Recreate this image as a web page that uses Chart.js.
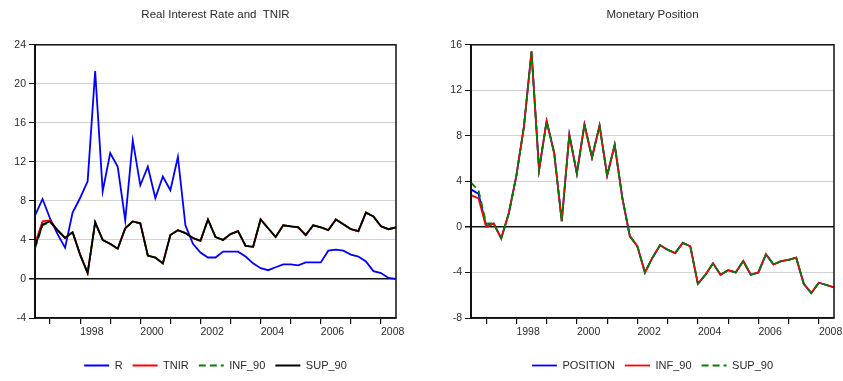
<!DOCTYPE html>
<html>
<head>
<meta charset="utf-8">
<script src="https://cdn.jsdelivr.net/npm/chart.js@4"></script>
<style>
  body { margin: 0; background: #fff; }
  canvas { position: absolute; top: 0; }
  #leftChart { left: 0; }
  #rightChart { left: 421px; }
</style>
</head>
<body>
<canvas id="leftChart" width="421" height="381"></canvas>
<canvas id="rightChart" width="422" height="381"></canvas>
<script>

// quarters 1996Q3 .. 2008Q3
const quarters = [
  '1996Q3','1996Q4',
  '1997Q1','1997Q2','1997Q3','1997Q4',
  '1998Q1','1998Q2','1998Q3','1998Q4',
  '1999Q1','1999Q2','1999Q3','1999Q4',
  '2000Q1','2000Q2','2000Q3','2000Q4',
  '2001Q1','2001Q2','2001Q3','2001Q4',
  '2002Q1','2002Q2','2002Q3','2002Q4',
  '2003Q1','2003Q2','2003Q3','2003Q4',
  '2004Q1','2004Q2','2004Q3','2004Q4',
  '2005Q1','2005Q2','2005Q3','2005Q4',
  '2006Q1','2006Q2','2006Q3','2006Q4',
  '2007Q1','2007Q2','2007Q3','2007Q4',
  '2008Q1','2008Q2','2008Q3'
];

// labelled years on the time axis
const yearLabels = ['1998', '2000', '2002', '2004', '2006', '2008'];

// left panel: real interest rate and TNIR
const rSeries = [6.5, 8.2, 6.2, 4.6, 3.2, 6.8, 8.3, 10.0, 21.3, 9.0,
  12.9, 11.5, 6.0, 14.2, 9.6, 11.5, 8.3, 10.5, 9.1, 12.5,
  5.5, 3.6, 2.7, 2.2, 2.2, 2.8, 2.8, 2.8, 2.3, 1.6,
  1.1, 0.9, 1.2, 1.5, 1.5, 1.4, 1.7, 1.7, 1.7, 2.9,
  3.0, 2.9, 2.5, 2.3, 1.8, 0.8, 0.6, 0.1, 0.0];
const tnirSeries = [3.6, 5.9, 6.0, 5.0, 4.2, 4.8, 2.5, 0.6, 5.8, 4.0,
  3.6, 3.1, 5.2, 5.9, 5.7, 2.4, 2.2, 1.6, 4.5, 5.0,
  4.7, 4.2, 3.9, 6.1, 4.3, 4.0, 4.6, 4.9, 3.4, 3.3,
  6.1, 5.2, 4.3, 5.5, 5.4, 5.3, 4.5, 5.5, 5.3, 5.0,
  6.1, 5.6, 5.1, 4.9, 6.8, 6.4, 5.4, 5.1, 5.3];
const infSeries = [3.1, 5.5, 5.8, 5.0, 4.2, 4.8, 2.5, 0.6, 5.8, 4.0,
  3.6, 3.1, 5.2, 5.9, 5.7, 2.4, 2.2, 1.6, 4.5, 5.0,
  4.7, 4.2, 3.9, 6.1, 4.3, 4.0, 4.6, 4.9, 3.4, 3.3,
  6.1, 5.2, 4.3, 5.5, 5.4, 5.3, 4.5, 5.5, 5.3, 5.0,
  6.1, 5.6, 5.1, 4.9, 6.8, 6.4, 5.4, 5.1, 5.3];
const supSeries = [3.3, 5.6, 5.9, 5.0, 4.2, 4.8, 2.5, 0.6, 5.8, 4.0,
  3.6, 3.1, 5.2, 5.9, 5.7, 2.4, 2.2, 1.6, 4.5, 5.0,
  4.7, 4.2, 3.9, 6.1, 4.3, 4.0, 4.6, 4.9, 3.4, 3.3,
  6.1, 5.2, 4.3, 5.5, 5.4, 5.3, 4.5, 5.5, 5.3, 5.0,
  6.1, 5.6, 5.1, 4.9, 6.8, 6.4, 5.4, 5.1, 5.3];

// right panel: monetary position
const positionSeries = [3.3, 2.9, 0.1, 0.3, -1.0, 1.2, 4.5, 8.8, 15.4, 5.0,
  9.3, 6.5, 0.5, 8.1, 4.7, 9.0, 6.1, 8.9, 4.5, 7.2,
  2.6, -0.8, -1.7, -4.0, -2.7, -1.6, -2.0, -2.3, -1.4, -1.7,
  -5.0, -4.2, -3.2, -4.2, -3.8, -4.0, -3.0, -4.2, -4.0, -2.4,
  -3.3, -3.0, -2.9, -2.7, -5.0, -5.8, -4.9, -5.1, -5.3];
const posInfSeries = [2.8, 2.5, 0.0, 0.3, -1.0, 1.2, 4.5, 8.8, 15.4, 5.0,
  9.3, 6.5, 0.5, 8.1, 4.7, 9.0, 6.1, 8.9, 4.5, 7.2,
  2.6, -0.8, -1.7, -4.0, -2.7, -1.6, -2.0, -2.3, -1.4, -1.7,
  -5.0, -4.2, -3.2, -4.2, -3.8, -4.0, -3.0, -4.2, -4.0, -2.4,
  -3.3, -3.0, -2.9, -2.7, -5.0, -5.8, -4.9, -5.1, -5.3];
const posSupSeries = [3.9, 3.2, 0.3, 0.3, -1.0, 1.2, 4.5, 8.8, 15.4, 5.0,
  9.3, 6.5, 0.5, 8.1, 4.7, 9.0, 6.1, 8.9, 4.5, 7.2,
  2.6, -0.8, -1.7, -4.0, -2.7, -1.6, -2.0, -2.3, -1.4, -1.7,
  -5.0, -4.2, -3.2, -4.2, -3.8, -4.0, -3.0, -4.2, -4.0, -2.4,
  -3.3, -3.0, -2.9, -2.7, -5.0, -5.8, -4.9, -5.1, -5.3];

const FONT = 'Liberation Sans, Arial, sans-serif';
const TEXT = '#2a2a2a';

// box round the plot area, drawn over the lines
const framePlugin = {
  id: 'frame',
  afterDatasetsDraw(chart) {
    const a = chart.chartArea;
    const ctx = chart.ctx;
    ctx.save();
    ctx.strokeStyle = '#111';
    ctx.lineWidth = 1.5;
    ctx.strokeRect(a.left, a.top, a.right - a.left, a.bottom - a.top);
    ctx.restore();
  }
};

// centre the title and the legend over the plot area instead of the canvas
const centreBoxesPlugin = {
  id: 'centreBoxes',
  afterLayout(chart) {
    const a = chart.chartArea;
    [chart.legend, chart.titleBlock].forEach((box) => {
      if (!box) return;
      const dx = (a.left + a.right) / 2 - (box.left + box.right) / 2;
      box.left += dx;
      box.right += dx;
    });
  }
};

function lineSet(label, data, color, dash, order) {
  return {
    label: label,
    data: data,
    borderColor: color,
    backgroundColor: color,
    borderWidth: 1.8,
    borderDash: dash,
    pointRadius: 0,
    pointStyle: 'line',
    tension: 0,
    order: order
  };
}

// legend line samples: keep the dash and width of each series
function legendLabels(chart) {
  const items = Chart.defaults.plugins.legend.labels.generateLabels(chart);
  items.forEach((item) => {
    const ds = chart.data.datasets[item.datasetIndex];
    item.lineDash = ds.borderDash;
    item.lineWidth = 1.8;
    item.strokeStyle = ds.borderColor;
  });
  return items;
}

function makeChart(canvasId, title, datasets, yMin, yMax, axisWidth, padRight) {
  const ctx = document.getElementById(canvasId).getContext('2d');
  return new Chart(ctx, {
    type: 'line',
    data: { labels: quarters, datasets: datasets },
    plugins: [framePlugin, centreBoxesPlugin],
    options: {
      responsive: false,
      devicePixelRatio: 1,
      animation: false,
      layout: { padding: { left: 0, right: padRight, top: 0, bottom: 0 } },
      plugins: {
        title: {
          display: true,
          text: title,
          color: TEXT,
          font: { family: FONT, size: 11.5, weight: 'normal' },
          padding: { top: 8, bottom: 23 }
        },
        legend: {
          position: 'bottom',
          labels: {
            usePointStyle: true,
            pointStyleWidth: 25,
            padding: 10,
            color: TEXT,
            font: { family: FONT, size: 11 },
            generateLabels: legendLabels,
            sort: (a, b) => a.datasetIndex - b.datasetIndex
          }
        },
        tooltip: { enabled: false }
      },
      scales: {
        x: {
          afterFit: (s) => { s.height = 32; },
          grid: {
            drawOnChartArea: false,
            tickLength: 6,
            tickColor: (c) => quarters[c.index] && quarters[c.index].endsWith('Q1') ? '#111' : 'rgba(0,0,0,0)',
            lineWidth: 1.2
          },
          border: { display: true, color: '#111', width: 1.5 },
          ticks: {
            autoSkip: false,
            maxRotation: 0,
            minRotation: 0,
            align: 'start',
            padding: 2,
            color: TEXT,
            font: { family: FONT, size: 10.5 },
            callback: function (value, index) {
              const q = quarters[index];
              const year = q.slice(0, 4);
              return q.endsWith('Q1') && yearLabels.includes(year) ? year : '';
            }
          }
        },
        y: {
          min: yMin,
          max: yMax,
          afterFit: (s) => { s.width = axisWidth; },
          grid: {
            color: (c) => c.tick.value === 0 ? '#111' : '#d2d2d2',
            lineWidth: (c) => c.tick.value === 0 ? 1.5 : 1,
            tickColor: '#111',
            tickLength: 6
          },
          border: { display: true, color: '#111', width: 2 },
          ticks: {
            stepSize: 4,
            padding: 3,
            color: TEXT,
            font: { family: FONT, size: 10.5 }
          }
        }
      }
    }
  });
}

makeChart('leftChart', 'Real Interest Rate and  TNIR', [
  lineSet('R', rSeries, '#0000ff', [], 3),
  lineSet('TNIR', tnirSeries, '#ff0000', [], 2),
  lineSet('INF_90', infSeries, '#008000', [7, 4], 1),
  lineSet('SUP_90', supSeries, '#000000', [], 0)
], -4, 24, 35, 25);

makeChart('rightChart', 'Monetary Position', [
  lineSet('POSITION', positionSeries, '#0000ff', [], 2),
  lineSet('INF_90', posInfSeries, '#ff0000', [], 1),
  lineSet('SUP_90', posSupSeries, '#008000', [7, 4], 0)
], -8, 16, 50, 9);

</script>
</body>
</html>
